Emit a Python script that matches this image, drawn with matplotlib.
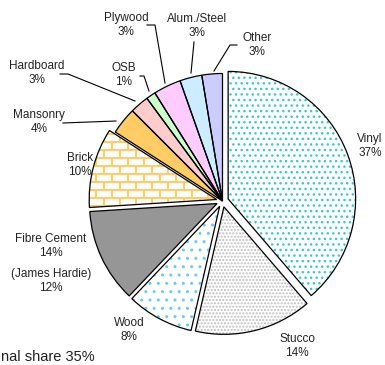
import numpy as np
import matplotlib

matplotlib.use("Agg")
import matplotlib.pyplot as plt
from matplotlib.collections import LineCollection

plt.rcParams["font.family"] = ["Liberation Sans", "DejaVu Sans"]
plt.rcParams["hatch.linewidth"] = 1.0

# Cladding market shares. The printed labels and the drawn slice sizes
# do not agree exactly in the source chart, so both are kept.
categories = ["Vinyl", "Stucco", "Wood", "Fibre Cement", "Brick", "Mansonry",
              "Hardboard", "OSB", "Plywood", "Alum./Steel", "Other"]
label_pct = [37, 14, 8, 14, 10, 4, 3, 1, 3, 3, 3]
slice_share = [38.7, 14.9, 8.5, 11.9, 10.1, 3.4, 2.4, 1.2, 3.5, 2.8, 2.6]
hardie_label = "(James Hardie)"
hardie_pct = 12
footer_label = "nal share"   # the source image is cropped on the left here
footer_pct = 35

face_colors = ["white", "white", "white", "#969696", "white", "#FFCC66",
               "#FFCCCC", "#CCFFCC", "#FFCCFF", "#CCECFF", "#CCCCFF"]
hatches = ["...", ".....", "..", None, None, None, None, None, None, None, None]
hatch_colors = ["#33CCCC", "#BDBDBD", "#66CCFF"] + [None] * 8
explode = [6.0] * 5 + [0.0] * 6   # pie() offsets in data units (pixels here)

W, H = 385, 365


def Y(y):
    # work in image pixels, y measured from the top
    return H - y


fig = plt.figure(figsize=(W / 100, H / 100), dpi=100)
ax = fig.add_axes([0, 0, 1, 1])

center = (222.5, Y(201))
R = 127.5

wedges, _ = ax.pie(slice_share, explode=explode, center=center, radius=R,
                   startangle=90, counterclock=False, colors=face_colors,
                   wedgeprops=dict(linewidth=0), frame=True)
for w, h, hc in zip(wedges, hatches, hatch_colors):
    if h:
        w.set_edgecolor(hc)
        w.set_hatch(h)

# brick pattern for the Brick slice
brick = wedges[4]
segs = []
rows = np.arange(Y(230), Y(120), 8.0)
for k, yy in enumerate(rows):
    segs.append([(80, yy), (230, yy)])
    off = 0 if k % 2 == 0 else 8
    for xx in np.arange(80 + off, 230, 16.0):
        segs.append([(xx, yy), (xx, yy + 8)])
lc = LineCollection(segs, colors="#FFCC66", linewidths=1.5, zorder=2)
ax.add_collection(lc)
lc.set_clip_path(brick)

# black outlines on top
ax.pie(slice_share, explode=explode, center=center, radius=R,
       startangle=90, counterclock=False,
       wedgeprops=dict(fill=False, edgecolor="black", linewidth=0.9, zorder=3),
       frame=True)

label_xy = [(370, 146), (297, 346), (129, 330), (51, 246), (80, 165),
            (39, 122), (37, 73), (124, 75), (126, 25), (197, 26), (257, 45)]
for (x, y), cat, pct in zip(label_xy, categories, label_pct):
    ax.text(x, Y(y), f"{cat}\n{pct}%", ha="center", va="center",
            fontsize=8.5, linespacing=1.3, color="#222222")
ax.text(51, Y(281), f"{hardie_label}\n{hardie_pct}%", ha="center", va="center",
        fontsize=8.5, linespacing=1.3, color="#222222")

leaders = [
    [(63, 123), (116, 121)],               # Mansonry
    [(60, 74), (68, 74), (135, 101)],      # Hardboard
    [(140, 76), (144, 76), (149, 91)],     # OSB
    [(147, 25), (155, 25), (165, 83)],     # Plywood
    [(194, 42), (191, 73)],                # Alum./Steel
    [(237, 45), (230, 45), (214, 71)],     # Other
]
for pts in leaders:
    xs = [p[0] for p in pts]
    ys = [Y(p[1]) for p in pts]
    ax.plot(xs, ys, color="black", lw=0.8, zorder=4)

ax.text(1, Y(357), f"{footer_label} {footer_pct}%", ha="left", va="center",
        fontsize=10.5, color="#222222")

ax.set_xlim(0, W)
ax.set_ylim(0, H)
ax.set_aspect("equal")
ax.axis("off")

fig.savefig("out.png", dpi=100)
